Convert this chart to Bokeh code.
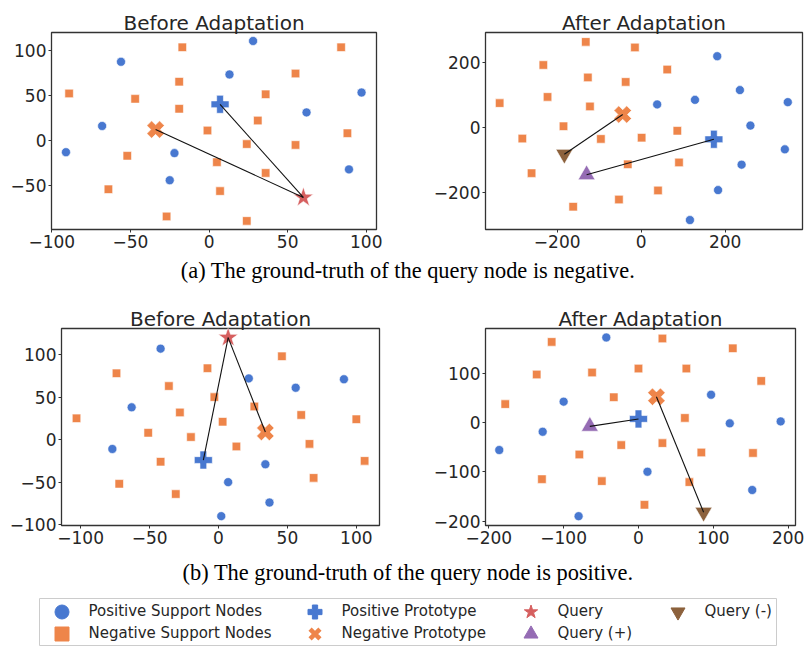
import numpy as np
from bokeh.plotting import figure
from bokeh.models import Range1d, FixedTicker, Legend, LegendItem, CustomJSTickFormatter
from bokeh.layouts import column, row
from bokeh.embed import file_html
from bokeh.resources import INLINE
from bokeh.core.properties import value

# ---------------- data ----------------
# (a) Before Adaptation
a_before_pos_x = [28, -56, 13, 97, 62, -68, -91, -22, 89, -25]
a_before_pos_y = [110, 87, 73, 53, 31, 16, -13, -14, -32, -44]
a_before_neg_x = [-17, 84, 55, -19, -89, -47, 36, -19, 31, -1, 88, 24, 55, -52, 5, 36, -64, 7, -27, 24]
a_before_neg_y = [103, 103, 74, 65, 52, 46, 51, 35, 22, 11, 8, -4, -5, -17, -24, -36, -54, -56, -84, -89]
a_before_pos_proto = [7, 40]
a_before_neg_proto = [-34, 12]
a_before_query = [60, -63]

# (a) After Adaptation
a_after_pos_x = [181, 235, 128, 38, 349, 260, 342, 239, 183, 116]
a_after_pos_y = [218, 114, 84, 70, 77, 5, -68, -115, -193, -285]
a_after_neg_x = [-132, -15, -233, -127, 62, -37, -337, -223, -122, -185, -283, -96, 1, 86, -32, 90, -261, 40, -53, -162]
a_after_neg_y = [262, 245, 191, 153, 177, 139, 74, 93, 64, 3, -35, -36, -32, -11, -114, -108, -141, -194, -222, -244]
a_after_pos_proto = [173, -37]
a_after_neg_proto = [-44, 39]
a_after_query_plus = [-130, -146]
a_after_query_minus = [-183, -83]

# (b) Before Adaptation
b_before_pos_x = [-42, 22, 91, 56, -63, -77, 34, 7, 37, 2]
b_before_pos_y = [107, 72, 71, 61, 38, -11, -29, -50, -74, -90]
b_before_neg_x = [46, -74, -8, -36, -3, -28, 26, 60, -103, 100, 3, -51, -20, 13, 66, -42, 106, 69, -72, -31]
b_before_neg_y = [98, 78, 84, 63, 50, 32, 39, 29, 25, 24, 21, 8, 3, -8, -5, -26, -25, -45, -52, -64]
b_before_pos_proto = [-11, -24]
b_before_neg_proto = [34, 9]
b_before_query = [7, 120]

# (b) After Adaptation
b_after_pos_x = [-43, -100, 97, -128, 122, 190, -186, 12, 152, -80]
b_after_pos_y = [172, 42, 56, -19, -2, 2, -56, -100, -137, -190]
b_after_neg_x = [-116, 32, 126, -136, -62, 0, 64, 164, -178, -33, 62, -23, 32, -79, 84, 153, -129, -49, 68, 8]
b_after_neg_y = [163, 170, 150, 97, 101, 109, 109, 84, 37, 51, 9, -46, -42, -65, -61, -62, -115, -119, -121, -167]
b_after_pos_proto = [0, 7]
b_after_neg_proto = [24, 52]
b_after_query_plus = [-65, -8]
b_after_query_minus = [87, -182]

# tick values
a_before_xticks = [-100, -50, 0, 50, 100]
a_before_yticks = [-50, 0, 50, 100]
a_after_xticks = [-200, 0, 200]
a_after_yticks = [-200, 0, 200]
b_before_xticks = [-100, -50, 0, 50, 100]
b_before_yticks = [-100, -50, 0, 50, 100]
b_after_xticks = [-200, -100, 0, 100, 200]
b_after_yticks = [-200, -100, 0, 100]

titles = ["Before Adaptation", "After Adaptation"]
captions = ["(a) The ground-truth of the query node is negative.",
            "(b) The ground-truth of the query node is positive."]
legend_labels = ["Positive Support Nodes", "Negative Support Nodes", "Positive Prototype",
                 "Negative Prototype", "Query", "Query (+)", "Query (-)"]

# ---------------- styles ----------------
BLUE = "#4878d0"
ORANGE = "#ee854a"
RED = "#d65f5f"
PURPLE = "#956cb4"
BROWN = "#8c613c"
TXT = "#262626"
FONT = "DejaVu Sans"

minus_fmt = CustomJSTickFormatter(code="return (tick < 0 ? '\u2212' : '') + Math.abs(tick).toFixed(0);")


def make_panel(title, w, h, left, right, top, bottom, xr, yr, xt, yt):
    p = figure(width=w, height=h, x_range=Range1d(*xr), y_range=Range1d(*yr),
               min_border_left=left, min_border_right=right,
               min_border_top=top, min_border_bottom=bottom,
               toolbar_location=None, output_backend="svg", title=title)
    p.title.align = "center"
    p.title.text_font = FONT
    p.title.text_font_size = "20px"
    p.title.text_font_style = "normal"
    p.title.text_color = TXT
    p.title.standoff = -4
    p.title.offset = 0
    p.xgrid.grid_line_color = None
    p.ygrid.grid_line_color = None
    p.outline_line_color = "#333333"
    p.outline_line_width = 1.3
    p.background_fill_color = "white"
    p.border_fill_color = "white"
    p.xaxis.ticker = FixedTicker(ticks=xt)
    p.yaxis.ticker = FixedTicker(ticks=yt)
    for ax in (p.xaxis[0], p.yaxis[0]):
        ax.formatter = minus_fmt
        ax.axis_line_color = None
        ax.major_tick_line_color = "#333333"
        ax.major_tick_out = 3
        ax.major_tick_in = 0
        ax.minor_tick_line_color = None
        ax.major_label_text_font = FONT
        ax.major_label_text_font_size = "17px"
        ax.major_label_text_color = TXT
        ax.major_label_standoff = 2
    return p


def draw_points(p, pos_x, pos_y, neg_x, neg_y, pos_proto, neg_proto):
    p.scatter(pos_x, pos_y, marker="circle", size=9, fill_color=BLUE, line_color="white", line_width=0.6)
    p.scatter(neg_x, neg_y, marker="square", size=8.5, fill_color=ORANGE, line_color="white", line_width=0.6)
    p.scatter([pos_proto[0]], [pos_proto[1]], marker="plus", size=18, fill_color=BLUE,
              line_color="white", line_width=0.6)
    p.scatter([neg_proto[0]], [neg_proto[1]], marker="plus", size=18, angle=np.pi / 4,
              fill_color=ORANGE, line_color="white", line_width=0.6)


def draw_links(p, starts, ends):
    p.segment(x0=[s[0] for s in starts], y0=[s[1] for s in starts],
              x1=[e[0] for e in ends], y1=[e[1] for e in ends],
              line_color="#111111", line_width=1.1)


# ---------- (a) before ----------
p1 = make_panel(titles[0], 430, 255, 51, 54, 32, 26, (-100.2, 106.5), (-98.5, 119.4),
                a_before_xticks, a_before_yticks)
draw_points(p1, a_before_pos_x, a_before_pos_y, a_before_neg_x, a_before_neg_y,
            a_before_pos_proto, a_before_neg_proto)
p1.scatter([a_before_query[0]], [a_before_query[1]], marker="star", size=21, fill_color=RED,
           line_color="white", line_width=0.6)
draw_links(p1, [a_before_pos_proto, a_before_neg_proto], [a_before_query, a_before_query])

# ---------- (a) after ----------
p2 = make_panel(titles[1], 375, 255, 54, 3, 32, 25, (-370.7, 384.0), (-314, 290.8),
                a_after_xticks, a_after_yticks)
draw_points(p2, a_after_pos_x, a_after_pos_y, a_after_neg_x, a_after_neg_y,
            a_after_pos_proto, a_after_neg_proto)
p2.scatter([a_after_query_plus[0]], [a_after_query_plus[1]], marker="triangle", size=17,
           fill_color=PURPLE, line_color="white", line_width=0.6)
p2.scatter([a_after_query_minus[0]], [a_after_query_minus[1]], marker="inverted_triangle", size=17,
           fill_color=BROWN, line_color="white", line_width=0.6)
draw_links(p2, [a_after_neg_proto, a_after_pos_proto], [a_after_query_minus, a_after_query_plus])

# ---------- (b) before ----------
p3 = make_panel(titles[0], 430, 272, 61, 51, 43, 32, (-113.9, 116.8), (-101, 130.7),
                b_before_xticks, b_before_yticks)
draw_points(p3, b_before_pos_x, b_before_pos_y, b_before_neg_x, b_before_neg_y,
            b_before_pos_proto, b_before_neg_proto)
p3.scatter([b_before_query[0]], [b_before_query[1]], marker="star", size=21, fill_color=RED,
           line_color="white", line_width=0.6)
draw_links(p3, [b_before_pos_proto, b_before_neg_proto], [b_before_query, b_before_query])

# ---------- (b) after ----------
p4 = make_panel(titles[1], 375, 272, 54, 10, 42, 32, (-204.4, 209.8), (-208.9, 190.2),
                b_after_xticks, b_after_yticks)
draw_points(p4, b_after_pos_x, b_after_pos_y, b_after_neg_x, b_after_neg_y,
            b_after_pos_proto, b_after_neg_proto)
p4.scatter([b_after_query_plus[0]], [b_after_query_plus[1]], marker="triangle", size=17,
           fill_color=PURPLE, line_color="white", line_width=0.6)
p4.scatter([b_after_query_minus[0]], [b_after_query_minus[1]], marker="inverted_triangle", size=17,
           fill_color=BROWN, line_color="white", line_width=0.6)
draw_links(p4, [b_after_query_plus, b_after_neg_proto], [b_after_pos_proto, b_after_query_minus])


# ---------- captions ----------
def make_caption(txt, h):
    c = figure(width=805, height=h, x_range=Range1d(0, 1), y_range=Range1d(0, 1),
               x_axis_type=None, y_axis_type=None, min_border=0,
               toolbar_location=None, output_backend="svg")
    c.outline_line_color = None
    c.xgrid.grid_line_color = None
    c.ygrid.grid_line_color = None
    c.text(x=[0.5], y=[0.5], text=[txt], text_align="center", text_baseline="middle",
           text_font=value("Liberation Serif"), text_font_size="22.4px", text_color="black")
    return c


cap1 = make_caption(captions[0], 30)
cap2 = make_caption(captions[1], 30)

# ---------- legend ----------
leg = figure(width=805, height=59, x_range=Range1d(0, 1), y_range=Range1d(0, 1),
             x_axis_type=None, y_axis_type=None,
             min_border_left=39, min_border_right=29, min_border_top=11, min_border_bottom=1,
             toolbar_location=None, output_backend="svg")
leg.outline_line_color = "#cccccc"
leg.outline_line_width = 1
leg.xgrid.grid_line_color = None
leg.ygrid.grid_line_color = None

legend_styles = [
    dict(marker="circle", fill_color=BLUE, line_color=BLUE),
    dict(marker="square", fill_color=ORANGE, line_color=ORANGE),
    dict(marker="plus", fill_color=BLUE, line_color=BLUE),
    dict(marker="x", line_color=ORANGE, line_width=4.5),
    dict(marker="star", fill_color=RED, line_color=RED),
    dict(marker="triangle", fill_color=PURPLE, line_color=PURPLE),
    dict(marker="inverted_triangle", fill_color=BROWN, line_color=BROWN),
]
# legend cell anchors (layout): column left offsets and row bottoms, in frame pixels
col_x = [4.5, 257.5, 473.5, 620.5]
row_y = [16.5, -5.5]
cells = [(0, 0), (0, 1), (1, 0), (1, 1), (2, 0), (2, 1), (3, 0)]
for lab, st, (ci, ri) in zip(legend_labels, legend_styles, cells):
    # a single off-screen point keeps the legend swatch drawable
    r = leg.scatter(x=[-10], y=[-10], size=14, **st)
    lg = Legend(items=[LegendItem(label=lab, renderers=[r])], location=(col_x[ci], row_y[ri]),
                glyph_width=35, glyph_height=35, label_height=35, label_standoff=10,
                padding=0, margin=0, spacing=0,
                background_fill_alpha=0, border_line_alpha=0,
                label_text_font=FONT, label_text_font_size="15px", label_text_color=TXT)
    leg.add_layout(lg)

layout = column(row(p1, p2), cap1, row(p3, p4), cap2, leg)

open("out.html", "w").write(file_html(layout, INLINE))
